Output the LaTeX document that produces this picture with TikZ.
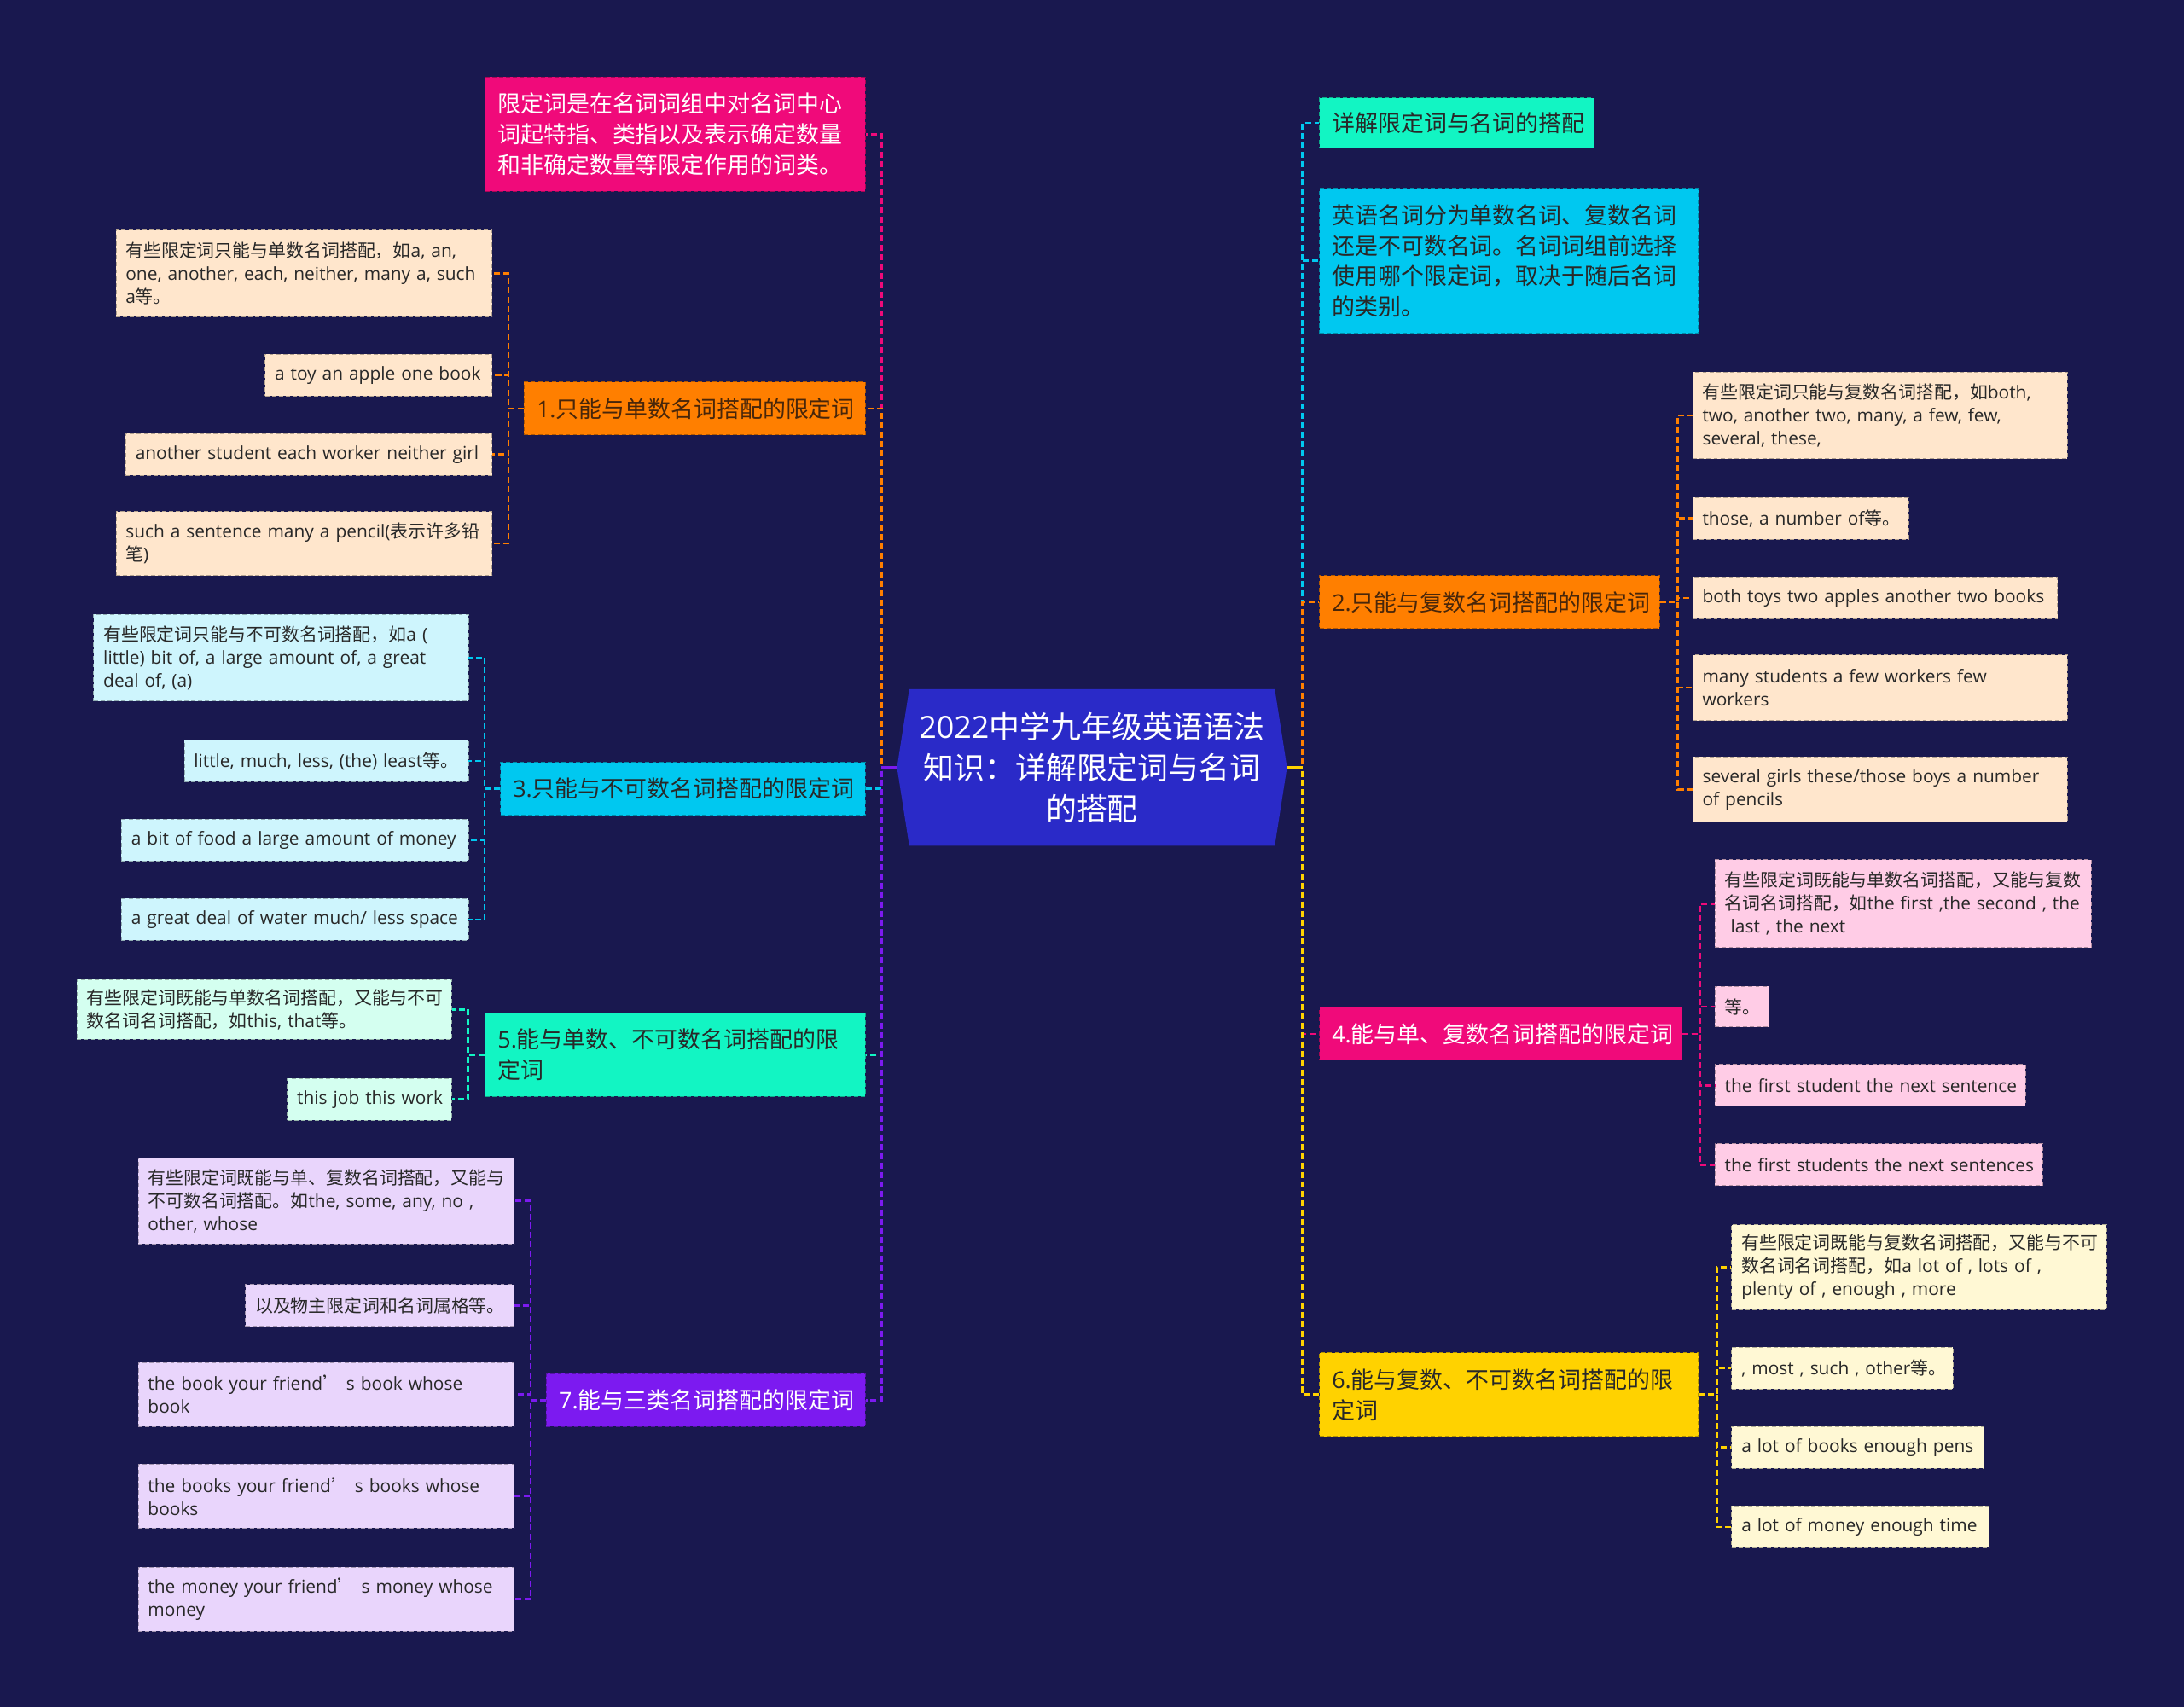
\documentclass[tikz,border=0pt]{standalone}
\usepackage{fontspec}
\setmainfont{Open Sans}
\newfontfamily\cjkfont{Noto Sans CJK SC}
\newfontfamily\latinfont{Open Sans}
\usetikzlibrary{backgrounds}
% automatic switch to the CJK font for CJK characters
\XeTeXinterchartokenstate=1
\newXeTeXintercharclass\CJKcls
\newcount\cjkcnt
\def\cjkrange#1#2{\cjkcnt=#1\relax
  \loop\XeTeXcharclass\cjkcnt=\CJKcls
  \ifnum\cjkcnt<#2\relax\advance\cjkcnt by 1\repeat}
\cjkrange{"3000}{"303F}
\cjkrange{"4E00}{"9FFF}
\cjkrange{"FF00}{"FFEF}
\XeTeXcharclass"2018=\CJKcls
\XeTeXcharclass"2019=\CJKcls
\cjkcnt=0
\loop
  \XeTeXinterchartoks\cjkcnt\CJKcls={\cjkfont}
  \XeTeXinterchartoks\CJKcls\cjkcnt={\latinfont}
  \advance\cjkcnt by 1
\ifnum\cjkcnt<\CJKcls\repeat
\XeTeXinterchartoks 4095 \CJKcls={\cjkfont}
\XeTeXinterchartoks \CJKcls 4095={\latinfont}

\definecolor{bg}{RGB}{25,24,79}
\definecolor{rootc}{RGB}{42,42,200}
\definecolor{pinkc}{RGB}{240,10,122}
\definecolor{orangec}{RGB}{255,127,0}
\definecolor{cyanc}{RGB}{0,200,240}
\definecolor{tealc}{RGB}{18,245,195}
\definecolor{purplec}{RGB}{124,26,240}
\definecolor{yellowc}{RGB}{255,210,0}
\definecolor{peach}{RGB}{255,230,204}
\definecolor{lcyan}{RGB}{206,245,253}
\definecolor{mint}{RGB}{212,255,240}
\definecolor{lav}{RGB}{233,213,252}
\definecolor{lpink}{RGB}{255,204,230}
\definecolor{lyellow}{RGB}{255,248,212}
\definecolor{txt}{RGB}{40,40,40}
\definecolor{brown}{RGB}{72,38,10}
\newcommand\onel[1]{\mbox{#1}}

\begin{document}
\begin{tikzpicture}[x=1pt,y=-1pt,
  lvl/.style={rectangle, anchor=north west, inner xsep=9pt, inner ysep=0pt, align=left,
    line width=0.6pt, dash pattern=on 3pt off 2pt, font=\fontsize{16.5}{22}\selectfont},
  kid/.style={rectangle, anchor=north west, inner xsep=7pt, inner ysep=0pt, align=left,
    font=\fontsize{12.8}{16.5}\selectfont, text=txt, line width=0.5pt, dash pattern=on 3pt off 2pt},
  bx/.style n args={3}{minimum width=#1pt, minimum height=#2pt, text width=#3pt},
  colbox/.style={fill=#1, draw=#1!70!black},
  conn/.style={draw=#1, line width=1.6pt, dash pattern=on 4.3pt off 2.4pt},
  stub/.style={draw=#1, line width=1.6pt}]

\useasboundingbox (0,0) rectangle (1568,1225.6);
\begin{scope}[on background layer]
  \fill[bg] (0,0) rectangle (1568,1225.6);
\end{scope}

% ---------- root ----------
\node[rectangle, minimum width=262pt, minimum height=112pt, inner sep=0pt, align=center,
  text=white, font=\fontsize{22}{29.5}\selectfont] (root) at (784,551)
  {2022中学九年级英语语法\\知识：详解限定词与名词\\的搭配};
\coordinate (rl) at (644,551);
\coordinate (rr) at (924,551);
\begin{scope}[on background layer]
  \fill[rootc] (root.north west) -- (root.north east) -- (rr) -- (root.south east)
    -- (root.south west) -- (rl) -- cycle;
\end{scope}

% ---------- left side ----------
\node[lvl, colbox=pinkc, text=white, bx={273}{82}{255}] (p0) at (348,55)
  {\onel{限定词是在名词词组中对名词中心}\\\onel{词起特指、类指以及表示确定数量}\\\onel{和非确定数量等限定作用的词类。}};
\node[lvl, colbox=orangec, text=brown, bx={245}{38}{227}] (b1) at (376,274)
  {\onel{1.只能与单数名词搭配的限定词}};
\node[kid, colbox=peach, bx={270}{62}{256}] (c11) at (83,165)
  {\onel{有些限定词只能与单数名词搭配，如a, an,}\\\onel{one, another, each, neither, many a, such}\\\onel{a等。}};
\node[kid, colbox=peach, bx={163}{30}{149}] (c12) at (190,254) {\onel{a toy an apple one book}};
\node[kid, colbox=peach, bx={263}{30}{249}] (c13) at (90,311) {\onel{another student each worker neither girl}};
\node[kid, colbox=peach, bx={270}{46}{256}] (c14) at (83,367)
  {\onel{such a sentence many a pencil(表示许多铅}\\\onel{笔)}};

\node[lvl, colbox=cyanc, text=txt, bx={262}{38}{244}] (b3) at (359,547)
  {\onel{3.只能与不可数名词搭配的限定词}};
\node[kid, colbox=lcyan, bx={269}{62}{255}] (c31) at (67,441)
  {\onel{有些限定词只能与不可数名词搭配，如a (}\\\onel{little) bit of, a large amount of, a great}\\\onel{deal of, (a)}};
\node[kid, colbox=lcyan, bx={204}{30}{190}] (c32) at (132,531) {\onel{little, much, less, (the) least等。}};
\node[kid, colbox=lcyan, bx={249}{30}{235}] (c33) at (87,588) {\onel{a bit of food a large amount of money}};
\node[kid, colbox=lcyan, bx={249}{30}{235}] (c34) at (87,645) {\onel{a great deal of water much/ less space}};

\node[lvl, colbox=tealc, text=txt, bx={273}{60}{255}] (b5) at (348,727)
  {\onel{5.能与单数、不可数名词搭配的限}\\\onel{定词}};
\node[kid, colbox=mint, bx={269}{43}{255}] (c51) at (55,703)
  {\onel{有些限定词既能与单数名词搭配，又能与不可}\\\onel{数名词名词搭配，如this, that等。}};
\node[kid, colbox=mint, bx={118}{30}{104}] (c52) at (206,774) {\onel{this job this work}};

\node[lvl, colbox=purplec, text=white, bx={229}{38}{211}] (b7) at (392,986)
  {\onel{7.能与三类名词搭配的限定词}};
\node[kid, colbox=lav, bx={270}{62}{256}] (c71) at (99,831)
  {\onel{有些限定词既能与单、复数名词搭配，又能与}\\\onel{不可数名词搭配。如the, some, any, no ,}\\\onel{other, whose}};
\node[kid, colbox=lav, bx={193}{30}{179}] (c72) at (176,922) {\onel{以及物主限定词和名词属格等。}};
\node[kid, colbox=lav, bx={270}{46}{256}] (c73) at (99,978)
  {\onel{the book your friend’ s book whose}\\\onel{book}};
\node[kid, colbox=lav, bx={270}{46}{256}] (c74) at (99,1051)
  {\onel{the books your friend’ s books whose}\\\onel{books}};
\node[kid, colbox=lav, bx={270}{46}{256}] (c75) at (99,1125)
  {\onel{the money your friend’ s money whose}\\\onel{money}};

% ---------- right side ----------
\node[lvl, colbox=tealc, text=txt, bx={197}{36}{179}] (r0a) at (947,70)
  {\onel{详解限定词与名词的搭配}};
\node[lvl, colbox=cyanc, text=txt, bx={272}{104}{254}] (r0b) at (947,135)
  {\onel{英语名词分为单数名词、复数名词}\\\onel{还是不可数名词。名词词组前选择}\\\onel{使用哪个限定词，取决于随后名词}\\\onel{的类别。}};

\node[lvl, colbox=orangec, text=brown, bx={244}{38}{226}] (b2) at (947,413)
  {\onel{2.只能与复数名词搭配的限定词}};
\node[kid, colbox=peach, bx={269}{62}{255}] (c21) at (1215,267)
  {\onel{有些限定词只能与复数名词搭配，如both,}\\\onel{two, another two, many, a few, few,}\\\onel{several, these,}};
\node[kid, colbox=peach, bx={155}{30}{141}] (c22) at (1215,357) {\onel{those, a number of等。}};
\node[kid, colbox=peach, bx={262}{30}{248}] (c23) at (1215,414) {\onel{both toys two apples another two books}};
\node[kid, colbox=peach, bx={269}{47}{255}] (c24) at (1215,470)
  {\onel{many students a few workers few}\\\onel{workers}};
\node[kid, colbox=peach, bx={269}{47}{255}] (c25) at (1215,543)
  {\onel{several girls these/those boys a number}\\\onel{of pencils}};

\node[lvl, colbox=pinkc, text=white, bx={260}{38}{242}] (b4) at (947,723)
  {\onel{4.能与单、复数名词搭配的限定词}};
\node[kid, colbox=lpink, bx={270}{63}{256}] (c41) at (1231,617)
  {\onel{有些限定词既能与单数名词搭配，又能与复数}\\\onel{名词名词搭配，如the first ,the second , the}\\\onel{\ last , the next}};
\node[kid, colbox=lpink, bx={39}{29}{25}] (c42) at (1231,708) {\onel{等。}};
\node[kid, colbox=lpink, bx={223}{30}{209}] (c43) at (1231,764) {\onel{the first student the next sentence}};
\node[kid, colbox=lpink, bx={235}{30}{221}] (c44) at (1231,821) {\onel{the first students the next sentences}};

\node[lvl, colbox=yellowc, text=txt, bx={272}{60}{254}] (b6) at (947,971)
  {\onel{6.能与复数、不可数名词搭配的限}\\\onel{定词}};
\node[kid, colbox=lyellow, bx={269}{61}{255}] (c61) at (1243,879)
  {\onel{有些限定词既能与复数名词搭配，又能与不可}\\\onel{数名词名词搭配，如a lot of , lots of ,}\\\onel{plenty of , enough , more}};
\node[kid, colbox=lyellow, bx={159}{30}{145}] (c62) at (1243,967) {\onel{, most , such , other等。}};
\node[kid, colbox=lyellow, bx={181}{30}{167}] (c63) at (1243,1024) {\onel{a lot of books enough pens}};
\node[kid, colbox=lyellow, bx={185}{30}{171}] (c64) at (1243,1081) {\onel{a lot of money enough time}};

% ---------- connectors from root ----------
\draw[conn=cyanc] (rl) -- ++(-11,0) |- (b3.east);
\draw[conn=tealc] (rl) -- ++(-11,0) |- (b5.east);
\draw[conn=purplec] (rl) -- ++(-11,0) |- (b7.east);
\draw[conn=pinkc] (rl) -- ++(-11,0) |- (p0.east);
\draw[conn=orangec] (rl) -- ++(-11,0) |- (b1.east);
\draw[stub=purplec] (rl) -- ++(-11,0);

\draw[conn=cyanc] (rr) -- ++(11,0) |- (r0a.west);
\draw[conn=cyanc] (rr) -- ++(11,0) |- (r0b.west);
\draw[conn=orangec] (rr) -- ++(11,0) |- (b2.west);
\draw[conn=pinkc] (rr) -- ++(11,0) |- (b4.west);
\draw[conn=yellowc] (rr) -- ++(11,0) |- (b6.west);
\draw[stub=yellowc] (rr) -- ++(11,0);

% ---------- connectors to leaves ----------
\foreach \c in {c11,c12,c13,c14}
  \draw[conn=orangec] (b1.west) -- ++(-11,0) |- (\c.east);
\foreach \c in {c31,c32,c33,c34}
  \draw[conn=cyanc] (b3.west) -- ++(-11,0) |- (\c.east);
\foreach \c in {c51,c52}
  \draw[conn=tealc] (b5.west) -- ++(-12,0) |- (\c.east);
\foreach \c in {c71,c72,c73,c74,c75}
  \draw[conn=purplec] (b7.west) -- ++(-11,0) |- (\c.east);
\foreach \c in {c21,c22,c23,c24,c25}
  \draw[conn=orangec] (b2.east) -- ++(13,0) |- (\c.west);
\foreach \c in {c41,c42,c43,c44}
  \draw[conn=pinkc] (b4.east) -- ++(13,0) |- (\c.west);
\foreach \c in {c61,c62,c63,c64}
  \draw[conn=yellowc] (b6.east) -- ++(13,0) |- (\c.west);
\end{tikzpicture}
\end{document}
